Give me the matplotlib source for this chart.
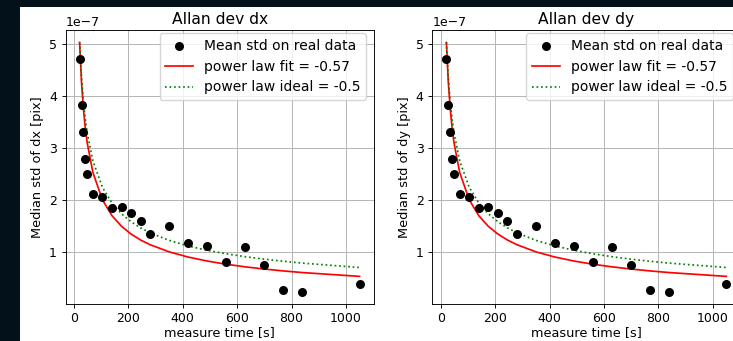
import matplotlib
matplotlib.use("Agg")
import matplotlib.pyplot as plt
import numpy as np
from matplotlib.patches import Rectangle

# ---- data ----
tau = [21, 28, 35, 42, 49, 70, 105, 140, 175, 210, 245, 280, 350, 420, 490,
       560, 630, 700, 770, 840, 1050]
std_dx = [4.71, 3.83, 3.32, 2.79, 2.51, 2.12, 2.07, 1.86, 1.88, 1.76, 1.61,
          1.36, 1.50, 1.19, 1.13, 0.81, 1.10, 0.76, 0.28, 0.25, 0.39]
std_dy = [4.71, 3.83, 3.32, 2.79, 2.51, 2.12, 2.07, 1.86, 1.88, 1.76, 1.61,
          1.36, 1.50, 1.19, 1.13, 0.81, 1.10, 0.76, 0.28, 0.25, 0.39]
scale = 1e-7
fit_amp = 5.03   # value (x1e-7) of the power law at tau[0]
fit_exp = -0.57
ideal_exp = -0.5
titles = ["Allan dev dx", "Allan dev dy"]
ylabels = ["Median std of dx [pix]", "Median std of dy [pix]"]
xlabel = "measure time [s]"
labels = ["Mean std on real data", "power law fit = -0.57", "power law ideal = -0.5"]

S = 0.82
plt.rcParams.update({
    "font.family": ["DejaVu Sans"],
    "font.size": 9,
    "axes.titlesize": 11.2,
    "axes.labelsize": 9.3,
    "xtick.labelsize": 9,
    "ytick.labelsize": 9,
    "legend.fontsize": 10,
    "axes.linewidth": 0.8 * S,
    "grid.linewidth": 0.8 * S,
    "xtick.major.size": 3,
    "ytick.major.size": 3,
    "xtick.major.width": 0.8 * S,
    "ytick.major.width": 0.8 * S,
    "xtick.major.pad": 3.0,
    "ytick.major.pad": 3.3,
    "axes.titlepad": 4,
    "axes.labelpad": 3.5,
})

W, H = 733, 341
fig = plt.figure(figsize=(W / 100, H / 100), dpi=100, facecolor="#03111a")
bg = Rectangle((20 / W, 0), 1, (H - 7) / H, transform=fig.transFigure,
               facecolor="white", edgecolor="none", zorder=-10)
fig.add_artist(bg)

tau_a = np.array(tau, dtype=float)
lefts = [65.6, 432.4]
AW, AH = 308, 274
for i, (ys, left) in enumerate(zip([std_dx, std_dy], lefts)):
    ax = fig.add_axes([left / W, 37 / H, AW / W, AH / H])
    ax.set_zorder(1)
    ax.set_facecolor("white")
    y = np.array(ys) * scale
    fit = fit_amp * scale * (tau_a / tau_a[0]) ** fit_exp
    ideal = fit_amp * scale * (tau_a / tau_a[0]) ** ideal_exp
    sc = ax.scatter(tau_a, y, s=30, color="black", zorder=3)
    l1, = ax.plot(tau_a, fit, color="red", lw=1.5 * S)
    l2, = ax.plot(tau_a, ideal, color="green", ls=":", lw=1.5 * S)
    ax.grid(True)
    ax.set_title(titles[i])
    ax.set_ylabel(ylabels[i])
    ax.set_xlabel(xlabel, labelpad=0.3)
    ax.legend([sc, l1, l2], labels, loc="upper right",
              bbox_to_anchor=(1 - 7.5 / AW, 1 - 3 / AH), borderaxespad=0)

fig.savefig("out.png", dpi=100, facecolor=fig.get_facecolor())
